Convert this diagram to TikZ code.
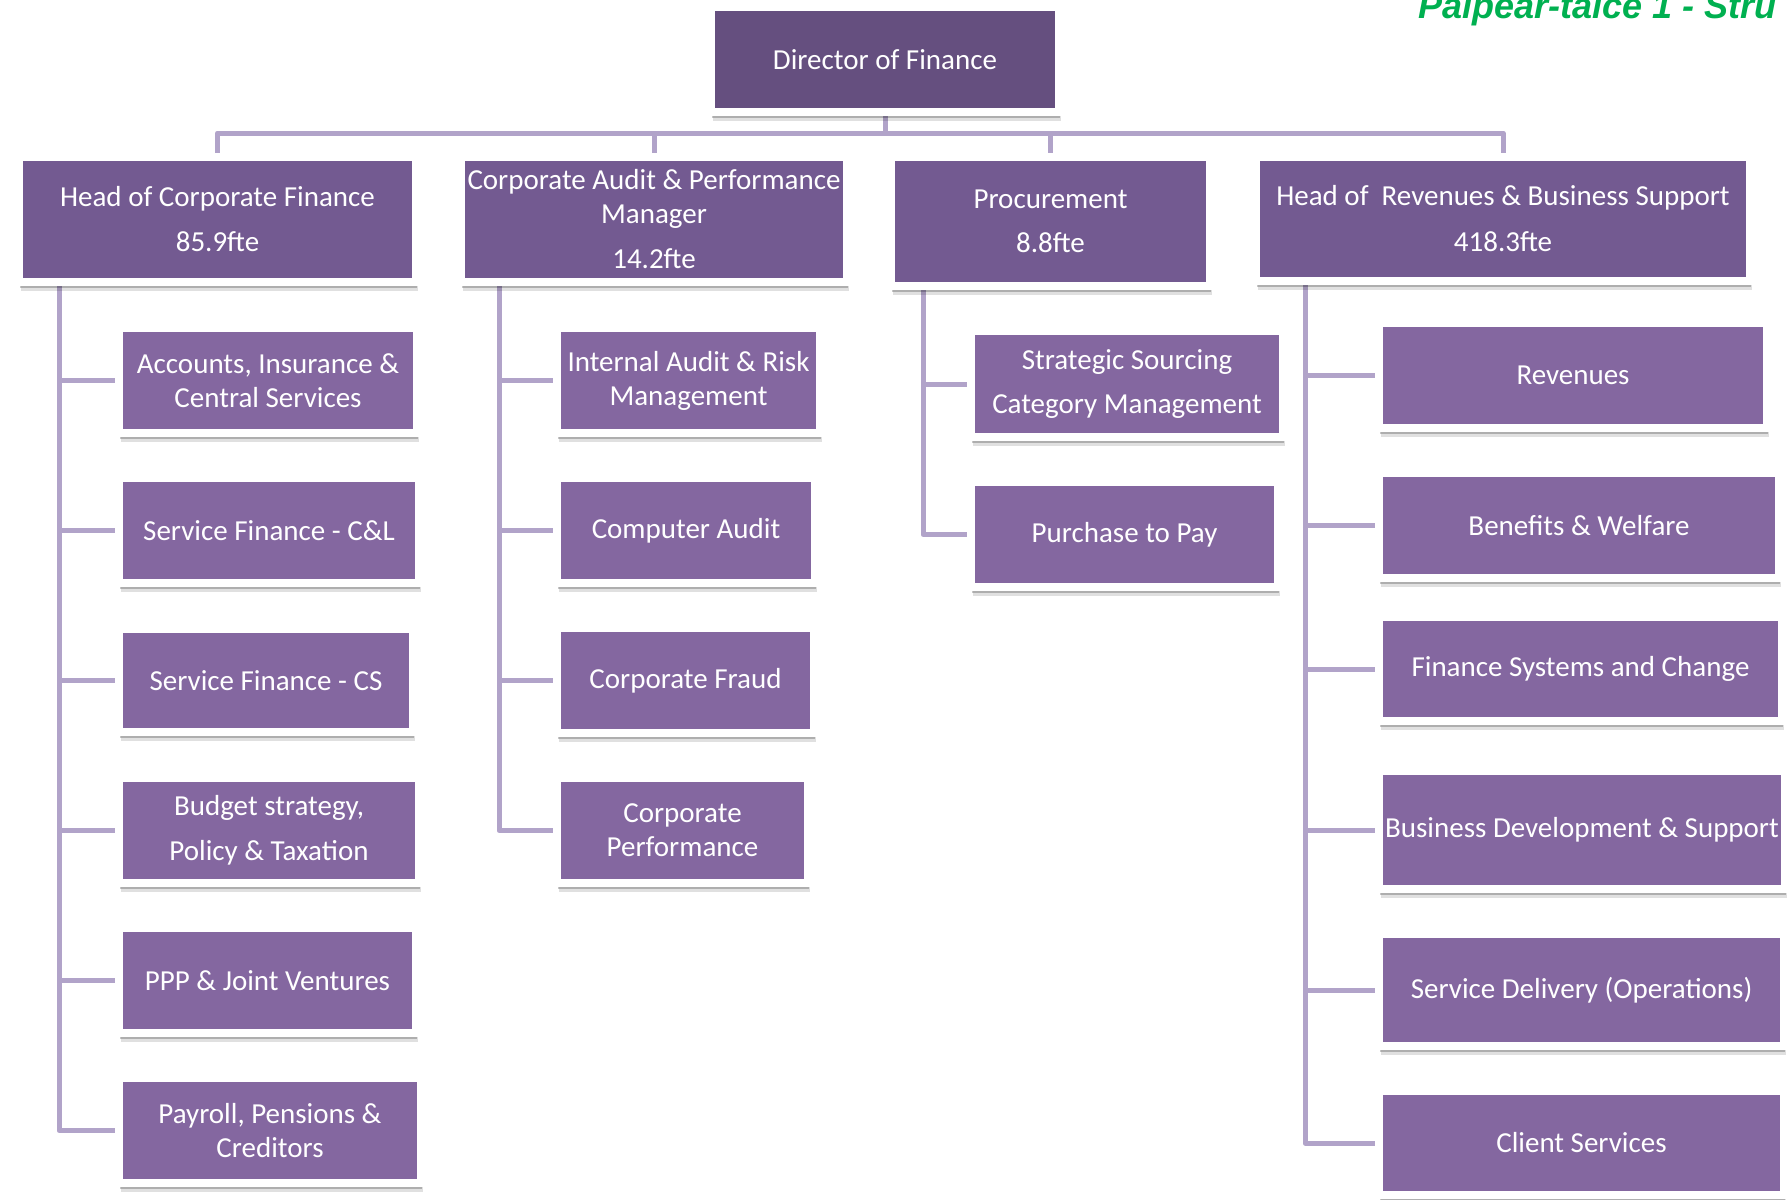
\documentclass[tikz,border=0pt]{standalone}
\usepackage{fontspec}
\setmainfont{Carlito}
\newfontfamily\titlefont{Liberation Sans}
\usetikzlibrary{shadows,backgrounds}
\definecolor{topcol}{HTML}{654F7F}
\definecolor{headcol}{HTML}{735A91}
\definecolor{unitcol}{HTML}{8467A0}
\definecolor{linkcol}{HTML}{B1A3C9}
\definecolor{titlecol}{HTML}{00B050}
\tikzset{
  box/.style={draw=white,line width=8pt,inner sep=0pt,outer sep=0pt,text=white,align=center,
    font=\fontsize{29}{34}\selectfont,
    drop shadow={shadow xshift=2pt,shadow yshift=-9pt,opacity=.12,fill=black},
    drop shadow={shadow xshift=1pt,shadow yshift=-6pt,opacity=.22,fill=black}},
  link/.style={draw=linkcol,line width=5pt,line join=round}
}
\begin{document}
\begin{tikzpicture}[x=1pt,y=-1pt,
    top/.style 2 args={box,fill=topcol,minimum width=#1+8,minimum height=#2+8},
    head/.style 2 args={box,fill=headcol,minimum width=#1+8,minimum height=#2+8},
    unit/.style 2 args={box,fill=unitcol,minimum width=#1+8,minimum height=#2+8}]
  \useasboundingbox (0,0) rectangle (1787,1199);
  \node[anchor=base west,inner sep=0pt,text=titlecol,font=\titlefont\bfseries\itshape\fontsize{36}{40}\selectfont] (title) at (1418,19) {Palpear-taice 1 - Stru};
  % director and heads
  \node[top={340}{97}] (dir) at (885,59.5) {Director of Finance};
  \node[head={389}{117}] (hcf) at (217.5,219.5) {Head of Corporate Finance\\[11pt]85.9fte};
  \node[head={378}{117}] (capm) at (654,219.5) {Corporate Audit \& Performance\\Manager\\[11pt]14.2fte};
  \node[head={311}{121}] (proc) at (1050.5,221.5) {Procurement\\[10pt]8.8fte};
  \node[head={486}{116}] (hrbs) at (1503,219) {Head of\ \ Revenues \& Business Support\\[12pt]418.3fte};
  % corporate finance
  \node[unit={290}{97}] (acc) at (268,380.5) {Accounts, Insurance \&\\Central Services};
  \node[unit={292}{97}] (sfcl) at (269,530.5) {Service Finance - C\&L};
  \node[unit={286}{95}] (sfcs) at (266,680.5) {Service Finance - CS};
  \node[unit={292}{97}] (bud) at (269,830.5) {Budget strategy,\\[11pt]Policy \& Taxation};
  \node[unit={289}{97}] (ppp) at (267.5,980.5) {PPP \& Joint Ventures};
  \node[unit={294}{97}] (pay) at (270,1130.5) {Payroll, Pensions \&\\Creditors};
  % audit
  \node[unit={255}{97}] (ia) at (688.5,380.5) {Internal Audit \& Risk\\Management};
  \node[unit={250}{97}] (ca) at (686,530.5) {Computer Audit};
  \node[unit={249}{97}] (cf) at (685.5,680.5) {Corporate Fraud};
  \node[unit={243}{97}] (cp) at (682.5,830.5) {Corporate\\Performance};
  % procurement
  \node[unit={304}{98}] (ss) at (1127,384) {Strategic Sourcing\\[10pt]Category Management};
  \node[unit={299}{97}] (pp) at (1124.5,534.5) {Purchase to Pay};
  % revenues
  \node[unit={380}{97}] (rev) at (1573,375.5) {Revenues};
  \node[unit={392}{97}] (bw) at (1579,525.5) {Benefits \& Welfare};
  \node[unit={395}{96}] (fsc) at (1580.5,669) {Finance Systems and Change};
  \node[unit={398}{110}] (bds) at (1582,830) {Business Development \& Support};
  \node[unit={397}{104}] (sdo) at (1581.5,990) {Service Delivery (Operations)};
  \node[unit={397}{96}] (cs) at (1581.5,1143) {Client Services};
  \coordinate (bar) at (0,133);
  \coordinate (c1) at (59,0);
  \coordinate (c2) at (499,0);
  \coordinate (c3) at (923,0);
  \coordinate (c4) at (1305,0);
  \begin{scope}[on background layer]
    \fill[white] (0,0) rectangle (1787,1199);
    \draw[link] (hcf) |- (bar -| dir) -| (hrbs);
    \foreach \n in {dir,capm,proc} \draw[link] (bar -| \n) -- (\n);
    \draw[link] (hcf -| c1) |- (pay);
    \foreach \n in {acc,sfcl,sfcs,bud,ppp} \draw[link] (c1 |- \n) -- (\n);
    \draw[link] (capm -| c2) |- (cp);
    \foreach \n in {ia,ca,cf} \draw[link] (c2 |- \n) -- (\n);
    \draw[link] (proc -| c3) |- (pp);
    \draw[link] (c3 |- ss) -- (ss);
    \draw[link] (hrbs -| c4) |- (cs);
    \foreach \n in {rev,bw,fsc,bds,sdo} \draw[link] (c4 |- \n) -- (\n);
  \end{scope}
\end{tikzpicture}
\end{document}
